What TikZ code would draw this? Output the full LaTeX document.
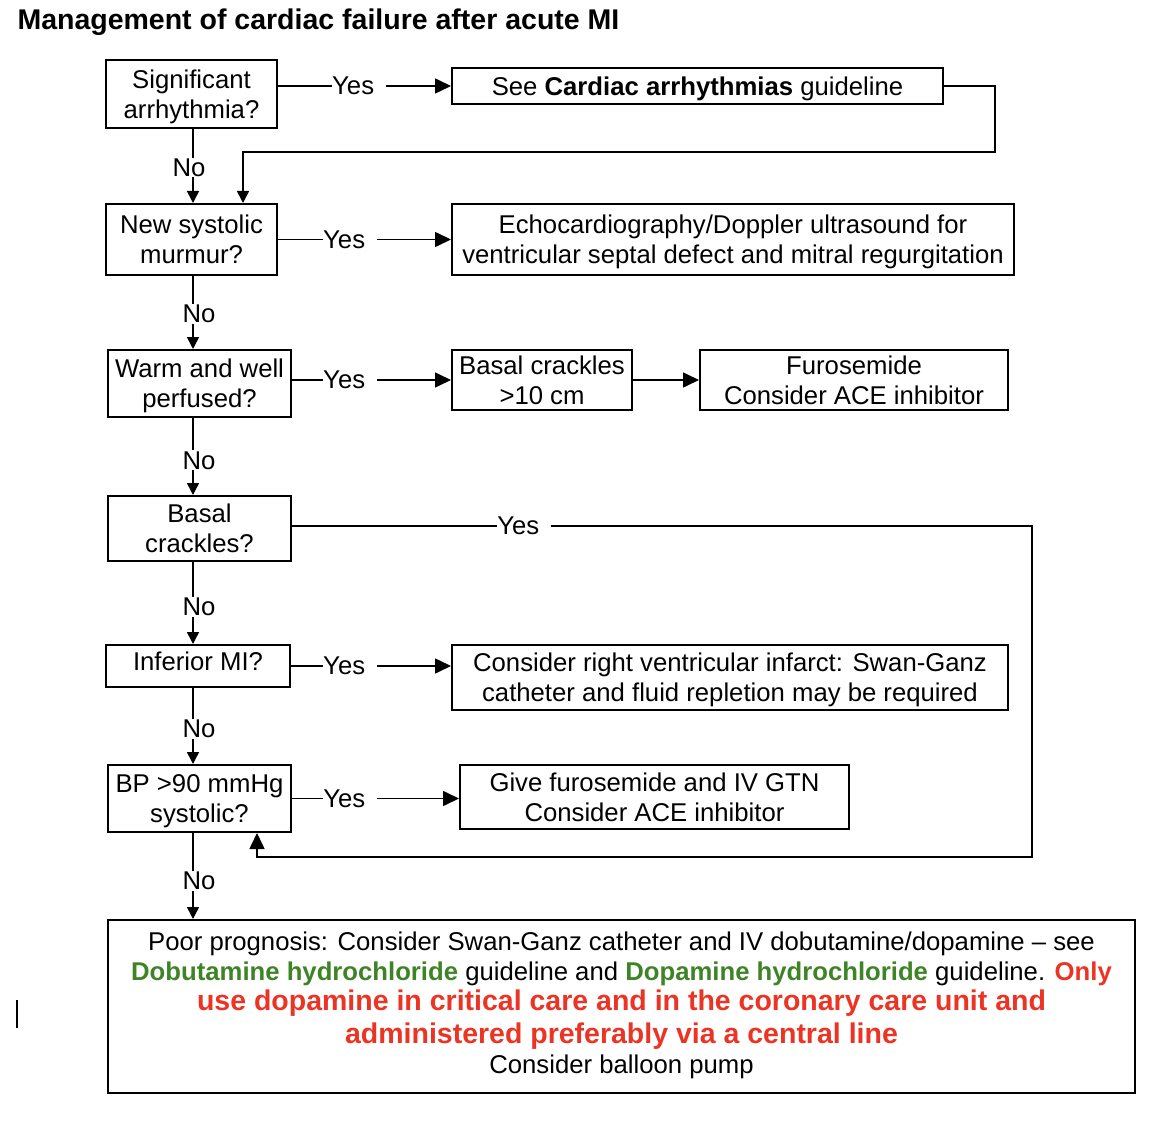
\documentclass[tikz,border=0pt]{standalone}
\usepackage{fontspec}
\setmainfont{Liberation Sans}
\usetikzlibrary{arrows.meta}
\definecolor{guidegreen}{RGB}{62,132,38}
\definecolor{warnred}{RGB}{236,52,36}
\newcommand{\guidename}[1]{\textcolor{guidegreen}{\textbf{#1}}}
\newcommand{\warntext}[1]{\textcolor{warnred}{\textbf{#1}}}
\tikzset{
  box/.style={draw, line width=2pt, inner sep=0pt, align=center, text depth=0pt,
    font=\fontsize{25.7}{30}\selectfont},
  link/.style={line width=1.6pt},
  arr/.style={link, -{Triangle[length=16pt,width=15pt]}},
  arrsmall/.style={link, -{Triangle[length=12pt,width=12pt]}},
  lab/.style={fill=white, inner xsep=6pt, inner ysep=1pt,
    font=\fontsize{25.7}{30}\selectfont},
  yeslab/.style={fill=white, inner xsep=0pt, inner ysep=1pt,
    font=\fontsize{25.7}{30}\selectfont},
}
\begin{document}
\begin{tikzpicture}[x=1pt,y=-1pt]
  \useasboundingbox (0,0) rectangle (1176,1126);
  \node [anchor=west, font=\fontsize{28.5}{32}\selectfont\bfseries] (title)
    at (14,22) {Management of cardiac failure after acute MI};
  % questions down the left
  \node [box, minimum width=171, minimum height=68] (q1) at (191.5,94)
    {Significant\\arrhythmia?};
  \node [box, minimum width=171, minimum height=71] (q2) at (191.5,239.5)
    {New systolic\\murmur?};
  \node [box, minimum width=183, minimum height=67] (q3) at (199.5,383.5)
    {Warm and well\\perfused?};
  \node [box, minimum width=183, minimum height=65] (q4) at (199.5,528.5)
    {Basal\\crackles?};
  \node [box, minimum width=184, minimum height=42, text depth=10pt] (q5) at (198,666)
    {Inferior MI?};
  \node [box, minimum width=183, minimum height=67] (q6) at (199.5,798.5)
    {BP >90 mmHg\\systolic?};
  % actions
  \node [box, minimum width=491, minimum height=36] (a1) at (697.5,86)
    {See \textbf{Cardiac arrhythmias} guideline};
  \node [box, minimum width=562, minimum height=71] (a2) at (733,239.5)
    {Echocardiography/Doppler ultrasound for\\ventricular septal defect and mitral regurgitation};
  \node [box, minimum width=180, minimum height=60] (a3) at (542,380)
    {Basal crackles\\>10 cm};
  \node [box, minimum width=308, minimum height=60] (a4) at (854,380)
    {Furosemide\\Consider ACE inhibitor};
  \node [box, minimum width=556, minimum height=65] (a5) at (730,677.5)
    {Consider right ventricular infarct: Swan-Ganz\\catheter and fluid repletion may be required};
  \node [box, minimum width=389, minimum height=64] (a6) at (654.5,797)
    {Give furosemide and IV GTN\\Consider ACE inhibitor};
  \node [box, minimum width=1027, minimum height=173, text depth=7pt] (a7) at (621.5,1006.5)
    {Poor prognosis: Consider Swan-Ganz catheter and IV dobutamine/dopamine -- see\\
     \guidename{Dobutamine hydrochloride} guideline and \guidename{Dopamine hydrochloride} guideline. \warntext{Only}\\
     {\fontsize{28.5}{33}\selectfont\warntext{use dopamine in critical care and in the coronary care unit and}}\\[3pt]
     {\fontsize{28.5}{33}\selectfont\warntext{administered preferably via a central line}}\\
     Consider balloon pump};
  % yes branches
  \coordinate (spine) at (193,0);
  \draw [arr] (q1.east |- a1.west) -- node [yeslab, pos=0.469] {Yes\kern12pt} (a1.west);
  \draw [arr] (q2.east) -- node [yeslab, pos=0.417] {Yes\kern12pt} (a2.west);
  \draw [arr] (q3.east |- a3.west) -- node [yeslab, pos=0.366] {Yes\kern12pt} (a3.west);
  \draw [arr] (a3.east) -- (a4.west);
  \draw [arr] (q5.east) -- node [yeslab, pos=0.37] {Yes\kern12pt} (q5.east -| a5.west);
  \draw [arr] (q6.east) -- node [yeslab, pos=0.349] {Yes\kern12pt} (q6.east -| a6.west);
  % loops back
  \coordinate (back1) at (995,152);
  \draw [arrsmall] (a1.east) -| (back1) -| ([xshift=51.5pt]q2.north);
  \coordinate (back2) at (1032,857);
  \draw [arr] ([yshift=2.5pt]q4.east) coordinate (s4)
    -- node [yeslab, pos=0.314] {Yes\kern12pt} (s4 -| back2) -- (back2)
    -| ([xshift=57.5pt]q6.south);
  % no branches
  \draw [arrsmall] (q1.south -| spine) -- node [lab, pos=0.52, xshift=-4pt] {No} (q2.north -| spine);
  \draw [arrsmall] (q2.south -| spine) -- node [lab, pos=0.52, xshift=6pt] {No} (q3.north -| spine);
  \draw [arrsmall] (q3.south -| spine) -- node [lab, pos=0.55, xshift=6pt] {No} (q4.north -| spine);
  \draw [arrsmall] (q4.south -| spine) -- node [lab, pos=0.55, xshift=6pt] {No} (q5.north -| spine);
  \draw [arrsmall] (q5.south -| spine) -- node [lab, pos=0.54, xshift=6pt] {No} (q6.north -| spine);
  \draw [arrsmall] (q6.south -| spine) -- node [lab, pos=0.56, xshift=6pt] {No} (a7.north -| spine);
  % stray mark at the left edge
  \draw [line width=1.5pt] (17,1000) -- (17,1028);
\end{tikzpicture}
\end{document}
